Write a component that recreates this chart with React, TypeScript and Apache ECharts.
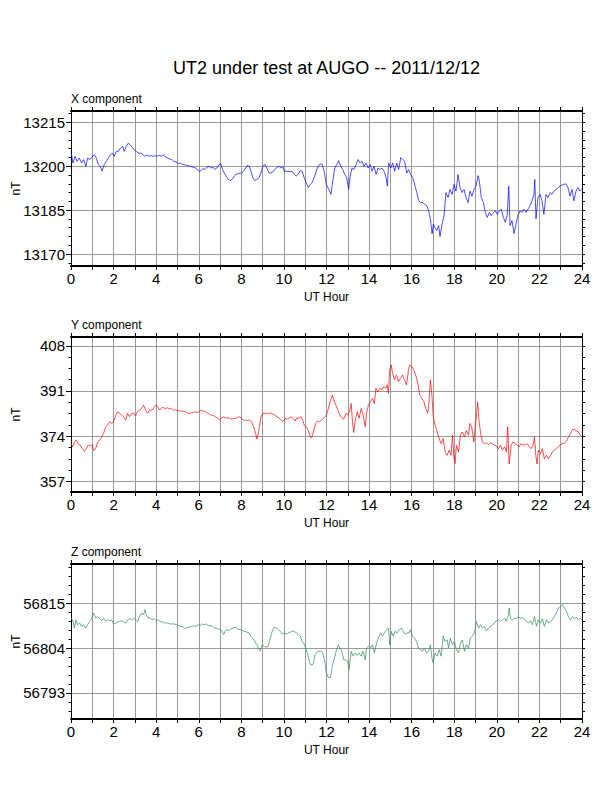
import React, { useEffect, useRef } from "react";
import * as echarts from "echarts";

const TITLE = "UT2 under test at AUGO -- 2011/12/12";
const HOUR_NAME = "UT Hour";
const UNIT_NAME = "nT";

// [UT hour, nT]
const X_COMPONENT: [number, number][] = [
  [0, 13205.1], [0.09, 13201.1], [0.19, 13203.4], [0.28, 13201.7], [0.39, 13202.8], [0.5, 13201.1], [0.59, 13202.3],
  [0.7, 13200.0], [0.78, 13202.8], [0.89, 13202.3], [1.0, 13203.4], [1.1, 13203.9], [1.19, 13202.8], [1.28, 13200.6],
  [1.38, 13200.0], [1.46, 13198.3], [1.56, 13200.6], [1.66, 13201.7], [1.75, 13202.8], [1.85, 13203.9], [1.94, 13204.5],
  [2.03, 13203.4], [2.13, 13205.1], [2.22, 13205.1], [2.32, 13206.2], [2.43, 13206.8], [2.5, 13205.1], [2.6, 13206.8],
  [2.69, 13207.9], [2.79, 13207.3], [2.9, 13206.2], [2.97, 13205.6], [3.07, 13205.1], [3.16, 13204.5], [3.29, 13204.5],
  [3.38, 13203.9], [3.47, 13203.4], [3.57, 13203.9], [3.66, 13203.4], [3.76, 13203.7], [3.85, 13203.4], [3.94, 13203.6],
  [4.04, 13203.4], [4.13, 13203.9], [4.23, 13203.4], [4.32, 13203.9], [4.41, 13203.4], [4.54, 13202.8], [4.63, 13202.5],
  [4.73, 13202.3], [4.82, 13201.7], [4.93, 13201.5], [5.04, 13200.9], [5.13, 13201.1], [5.23, 13200.6], [5.32, 13200.6],
  [5.41, 13200.3], [5.51, 13200.2], [5.6, 13200.0], [5.7, 13199.7], [5.79, 13199.7], [5.88, 13199.2], [6.01, 13198.3],
  [6.1, 13198.5], [6.2, 13199.2], [6.29, 13198.9], [6.38, 13199.7], [6.48, 13200.0], [6.57, 13199.4], [6.67, 13199.7],
  [6.76, 13198.9], [6.85, 13199.4], [6.95, 13200.6], [7.03, 13200.8], [7.12, 13198.9], [7.2, 13197.7], [7.29, 13196.6],
  [7.39, 13195.5], [7.48, 13195.1], [7.57, 13195.5], [7.67, 13196.6], [7.76, 13197.4], [7.86, 13197.4], [7.95, 13197.7],
  [8.01, 13197.7], [8.11, 13198.3], [8.2, 13199.4], [8.29, 13200.3], [8.37, 13200.0], [8.45, 13198.3], [8.54, 13196.1],
  [8.64, 13195.1], [8.73, 13195.5], [8.83, 13196.1], [8.92, 13197.7], [9.01, 13200.0], [9.11, 13200.6], [9.2, 13199.4],
  [9.3, 13197.7], [9.39, 13197.7], [9.48, 13198.1], [9.58, 13198.9], [9.67, 13199.7], [9.77, 13200.0], [9.86, 13199.4],
  [9.95, 13200.0], [10.02, 13198.3], [10.11, 13198.3], [10.2, 13198.3], [10.3, 13198.1], [10.39, 13198.3], [10.49, 13197.2],
  [10.58, 13196.6], [10.67, 13197.4], [10.77, 13198.5], [10.86, 13198.3], [10.95, 13196.1], [11.05, 13194.4], [11.14, 13192.7],
  [11.24, 13193.8], [11.33, 13194.4], [11.42, 13196.1], [11.52, 13198.3], [11.61, 13200.0], [11.71, 13200.8], [11.8, 13200.6],
  [11.89, 13198.3], [11.99, 13193.8], [12.11, 13192.1], [12.21, 13190.4], [12.29, 13194.9], [12.39, 13199.4], [12.48, 13200.6],
  [12.57, 13201.9], [12.67, 13200.0], [12.76, 13198.9], [12.86, 13197.2], [12.95, 13196.1], [13.04, 13192.1], [13.11, 13196.6],
  [13.2, 13199.4], [13.29, 13198.9], [13.39, 13200.6], [13.48, 13202.3], [13.58, 13201.1], [13.67, 13201.7], [13.76, 13200.0],
  [13.86, 13201.1], [13.95, 13199.4], [14.05, 13200.6], [14.14, 13198.3], [14.23, 13200.0], [14.33, 13197.2], [14.42, 13199.4],
  [14.52, 13198.9], [14.61, 13199.4], [14.7, 13198.3], [14.8, 13196.1], [14.86, 13193.2], [14.92, 13201.1], [15.02, 13199.4],
  [15.11, 13201.1], [15.2, 13198.3], [15.3, 13201.1], [15.39, 13198.9], [15.49, 13203.0], [15.58, 13202.3], [15.67, 13201.7],
  [15.77, 13197.7], [15.86, 13198.9], [15.95, 13197.2], [16.05, 13196.1], [16.14, 13193.8], [16.24, 13191.0], [16.33, 13188.2],
  [16.42, 13187.6], [16.52, 13187.6], [16.61, 13187.0], [16.71, 13186.5], [16.8, 13184.8], [16.89, 13181.4], [16.96, 13176.9],
  [17.02, 13180.3], [17.08, 13179.1], [17.18, 13178.0], [17.27, 13179.7], [17.33, 13176.0], [17.43, 13180.3], [17.52, 13183.1],
  [17.61, 13191.0], [17.71, 13189.3], [17.8, 13192.1], [17.9, 13190.4], [17.99, 13193.8], [18.08, 13191.5], [18.18, 13197.2],
  [18.27, 13192.7], [18.36, 13191.0], [18.46, 13192.1], [18.55, 13189.3], [18.65, 13187.6], [18.74, 13191.5], [18.83, 13189.8],
  [18.93, 13192.1], [19.02, 13193.2], [19.12, 13196.8], [19.18, 13194.9], [19.27, 13189.3], [19.37, 13187.6], [19.46, 13184.2],
  [19.55, 13182.5], [19.65, 13184.2], [19.74, 13183.1], [19.84, 13184.2], [19.93, 13184.8], [20.02, 13183.6], [20.12, 13184.8],
  [20.21, 13185.3], [20.31, 13182.5], [20.4, 13180.8], [20.49, 13183.6], [20.56, 13193.2], [20.62, 13179.7], [20.71, 13181.4],
  [20.81, 13177.0], [20.9, 13180.3], [20.99, 13183.1], [21.09, 13184.8], [21.18, 13184.2], [21.28, 13185.3], [21.37, 13184.2],
  [21.46, 13185.3], [21.56, 13186.5], [21.65, 13188.2], [21.75, 13190.4], [21.78, 13195.5], [21.84, 13182.0], [21.93, 13189.3],
  [22.03, 13190.4], [22.12, 13188.2], [22.21, 13183.6], [22.31, 13190.4], [22.4, 13189.3], [22.5, 13191.0], [22.59, 13190.4],
  [22.68, 13191.5], [22.78, 13192.1], [22.87, 13192.7], [22.97, 13193.2], [23.06, 13193.6], [23.15, 13193.8], [23.25, 13194.0],
  [23.34, 13192.7], [23.44, 13189.8], [23.53, 13192.1], [23.62, 13188.2], [23.72, 13191.5], [23.81, 13192.7], [23.9, 13191.5],
  [23.97, 13192.1],
];

const Y_COMPONENT: [number, number][] = [
  [0, 371.2], [0.08, 370.0], [0.16, 371.8], [0.25, 372.5], [0.34, 371.2], [0.44, 370.6], [0.53, 369.3], [0.63, 368.3],
  [0.72, 369.3], [0.81, 370.6], [0.91, 370.3], [1.0, 370.8], [1.06, 368.7], [1.16, 369.3], [1.25, 371.8], [1.35, 372.5],
  [1.44, 373.7], [1.53, 375.0], [1.63, 377.5], [1.72, 378.1], [1.82, 379.4], [1.91, 378.8], [2.0, 379.4], [2.1, 381.9],
  [2.19, 383.2], [2.28, 382.6], [2.38, 381.9], [2.47, 381.3], [2.57, 380.0], [2.66, 382.6], [2.75, 381.3], [2.85, 382.6],
  [2.94, 382.6], [3.04, 381.7], [3.13, 383.4], [3.22, 383.8], [3.32, 384.4], [3.41, 385.7], [3.51, 383.8], [3.6, 382.6],
  [3.69, 383.8], [3.79, 383.8], [3.88, 384.4], [3.97, 385.7], [4.07, 385.1], [4.16, 383.8], [4.26, 384.7], [4.35, 384.7],
  [4.44, 384.4], [4.54, 384.7], [4.63, 384.2], [4.73, 384.4], [4.82, 383.8], [4.91, 383.8], [5.01, 383.8], [5.1, 383.4],
  [5.2, 383.4], [5.29, 383.4], [5.38, 383.2], [5.48, 382.6], [5.57, 382.6], [5.67, 382.8], [5.76, 382.9], [5.85, 383.2],
  [5.95, 382.9], [6.04, 383.4], [6.13, 383.8], [6.23, 383.4], [6.32, 383.2], [6.42, 382.6], [6.51, 382.2], [6.6, 381.9],
  [6.7, 381.7], [6.79, 381.3], [6.89, 380.7], [6.98, 380.0], [7.07, 380.9], [7.17, 381.2], [7.26, 380.9], [7.36, 380.7],
  [7.45, 380.9], [7.54, 380.4], [7.64, 380.7], [7.73, 380.7], [7.82, 381.0], [7.92, 381.3], [8.01, 380.7], [8.11, 380.0],
  [8.2, 380.0], [8.29, 379.9], [8.39, 380.0], [8.48, 379.4], [8.58, 377.5], [8.67, 375.0], [8.73, 372.9], [8.8, 375.0],
  [8.86, 378.1], [8.92, 381.3], [9.01, 382.6], [9.11, 382.6], [9.2, 382.6], [9.3, 382.3], [9.39, 382.9], [9.48, 382.2],
  [9.58, 381.9], [9.67, 381.3], [9.77, 380.9], [9.86, 380.0], [9.95, 379.4], [10.05, 380.7], [10.14, 380.4], [10.23, 380.7],
  [10.33, 381.3], [10.42, 380.7], [10.52, 379.7], [10.61, 380.9], [10.7, 380.7], [10.8, 381.3], [10.89, 380.0], [10.95, 378.1],
  [11.05, 377.5], [11.14, 376.2], [11.24, 373.7], [11.3, 373.4], [11.39, 375.6], [11.49, 378.8], [11.58, 379.7], [11.67, 379.4],
  [11.77, 380.0], [11.86, 380.7], [11.99, 381.9], [12.09, 384.4], [12.19, 387.6], [12.28, 389.5], [12.34, 387.6], [12.44, 385.7],
  [12.53, 383.8], [12.63, 381.9], [12.72, 380.9], [12.81, 380.4], [12.91, 382.6], [13.0, 381.9], [13.1, 383.8], [13.16, 386.3],
  [13.22, 379.4], [13.28, 375.4], [13.35, 380.0], [13.44, 383.2], [13.53, 380.7], [13.63, 384.4], [13.72, 381.9], [13.82, 377.5],
  [13.88, 382.6], [13.97, 385.7], [14.07, 387.0], [14.16, 388.2], [14.25, 386.3], [14.32, 392.0], [14.41, 390.7], [14.5, 392.0],
  [14.6, 391.4], [14.69, 392.6], [14.79, 392.0], [14.85, 393.3], [14.91, 390.1], [14.97, 398.9], [15.04, 400.8], [15.1, 397.7],
  [15.19, 395.2], [15.29, 397.0], [15.38, 394.5], [15.47, 395.8], [15.57, 397.0], [15.66, 395.2], [15.76, 393.3], [15.85, 398.9],
  [15.91, 400.8], [16.01, 400.2], [16.1, 398.9], [16.19, 397.0], [16.29, 393.9], [16.38, 389.5], [16.48, 388.2], [16.57, 387.0],
  [16.66, 384.4], [16.76, 382.6], [16.82, 387.6], [16.88, 395.2], [16.95, 389.5], [17.01, 381.9], [17.1, 378.1], [17.2, 375.6],
  [17.29, 373.1], [17.38, 371.2], [17.48, 373.1], [17.57, 368.1], [17.67, 366.8], [17.76, 368.7], [17.85, 366.8], [17.92, 374.4],
  [17.98, 366.2], [18.04, 363.7], [18.1, 370.6], [18.2, 368.1], [18.29, 374.4], [18.38, 375.6], [18.48, 373.7], [18.57, 376.2],
  [18.67, 374.4], [18.73, 378.8], [18.82, 377.5], [18.92, 371.8], [19.01, 379.4], [19.1, 386.8], [19.17, 379.4], [19.23, 375.6],
  [19.32, 371.8], [19.42, 371.2], [19.51, 371.5], [19.61, 370.8], [19.7, 371.5], [19.79, 371.2], [19.89, 370.6], [19.98, 370.3],
  [20.08, 369.3], [20.17, 370.6], [20.26, 368.7], [20.36, 370.0], [20.45, 368.1], [20.51, 377.5], [20.58, 363.5], [20.67, 370.6],
  [20.76, 371.8], [20.86, 371.2], [20.95, 370.6], [21.05, 370.0], [21.14, 371.2], [21.23, 370.8], [21.33, 370.6], [21.42, 371.2],
  [21.51, 370.3], [21.61, 369.3], [21.7, 370.6], [21.77, 373.7], [21.83, 366.8], [21.89, 363.5], [21.95, 368.7], [22.05, 367.4],
  [22.14, 369.3], [22.23, 365.5], [22.33, 366.8], [22.42, 365.5], [22.52, 366.8], [22.61, 368.1], [22.7, 368.7], [22.8, 369.3],
  [22.89, 370.0], [22.99, 370.8], [23.08, 371.2], [23.17, 371.2], [23.27, 372.1], [23.36, 373.7], [23.46, 375.0], [23.55, 376.6],
  [23.64, 376.6], [23.74, 375.9], [23.83, 375.6], [23.92, 374.4], [23.99, 373.7],
];

const Z_COMPONENT: [number, number][] = [
  [0, 56811.3], [0.08, 56810.9], [0.16, 56808.9], [0.23, 56810.9], [0.31, 56809.7], [0.41, 56810.1], [0.5, 56809.3],
  [0.59, 56809.7], [0.69, 56808.9], [0.78, 56809.7], [0.88, 56810.5], [0.97, 56811.3], [1.06, 56812.6], [1.16, 56811.3],
  [1.25, 56811.7], [1.35, 56811.2], [1.44, 56810.7], [1.53, 56811.3], [1.63, 56810.5], [1.72, 56810.9], [1.82, 56810.7],
  [1.91, 56810.9], [2.0, 56809.9], [2.1, 56810.1], [2.19, 56810.4], [2.28, 56810.5], [2.38, 56810.7], [2.47, 56810.4],
  [2.57, 56810.1], [2.66, 56810.9], [2.75, 56811.2], [2.85, 56810.9], [2.94, 56811.3], [3.04, 56810.9], [3.13, 56810.5],
  [3.22, 56811.7], [3.32, 56812.6], [3.41, 56812.1], [3.47, 56813.4], [3.54, 56812.1], [3.63, 56811.3], [3.72, 56811.5],
  [3.82, 56810.9], [3.91, 56811.2], [4.01, 56810.7], [4.1, 56810.9], [4.19, 56810.5], [4.29, 56810.4], [4.38, 56810.1],
  [4.48, 56810.2], [4.57, 56810.1], [4.66, 56809.9], [4.76, 56809.9], [4.85, 56809.9], [4.95, 56809.7], [5.04, 56809.5],
  [5.13, 56809.3], [5.23, 56809.3], [5.32, 56808.9], [5.41, 56808.9], [5.51, 56809.1], [5.6, 56809.2], [5.7, 56809.3],
  [5.79, 56809.5], [5.88, 56809.3], [5.98, 56809.7], [6.07, 56809.5], [6.17, 56809.9], [6.26, 56809.7], [6.35, 56809.9],
  [6.45, 56809.5], [6.54, 56809.5], [6.64, 56809.3], [6.73, 56808.9], [6.82, 56808.9], [6.92, 56808.6], [7.01, 56808.5],
  [7.1, 56808.1], [7.17, 56807.3], [7.23, 56808.1], [7.32, 56808.5], [7.42, 56808.2], [7.51, 56808.7], [7.61, 56808.9],
  [7.7, 56809.1], [7.79, 56808.9], [7.89, 56808.5], [7.98, 56808.5], [8.08, 56808.2], [8.17, 56808.1], [8.26, 56807.9],
  [8.36, 56807.7], [8.45, 56806.9], [8.54, 56806.4], [8.64, 56805.6], [8.73, 56804.8], [8.83, 56803.8], [8.89, 56803.3],
  [8.98, 56804.8], [9.08, 56804.4], [9.17, 56804.2], [9.26, 56804.4], [9.36, 56806.4], [9.45, 56808.1], [9.55, 56809.1],
  [9.64, 56808.9], [9.73, 56808.5], [9.83, 56808.1], [9.92, 56807.4], [10.02, 56807.7], [10.11, 56807.4], [10.2, 56807.7],
  [10.3, 56807.9], [10.39, 56808.2], [10.49, 56808.1], [10.58, 56807.7], [10.67, 56807.4], [10.77, 56806.9], [10.86, 56805.6],
  [10.95, 56805.0], [11.05, 56803.6], [11.14, 56802.0], [11.24, 56799.9], [11.33, 56799.8], [11.39, 56800.3], [11.46, 56802.4],
  [11.55, 56803.0], [11.64, 56803.2], [11.74, 56803.2], [11.83, 56802.8], [11.92, 56800.7], [11.99, 56797.9], [12.09, 56796.7],
  [12.19, 56796.8], [12.28, 56799.9], [12.38, 56801.6], [12.47, 56803.6], [12.56, 56804.8], [12.63, 56804.0], [12.72, 56803.2],
  [12.81, 56801.1], [12.91, 56801.1], [13.0, 56800.7], [13.06, 56798.7], [13.16, 56803.2], [13.25, 56802.0], [13.35, 56802.8],
  [13.44, 56802.2], [13.53, 56802.8], [13.63, 56802.0], [13.72, 56803.2], [13.82, 56801.1], [13.88, 56804.0], [13.97, 56804.4],
  [14.07, 56804.0], [14.16, 56804.8], [14.25, 56802.8], [14.35, 56805.2], [14.44, 56806.4], [14.54, 56807.7], [14.63, 56806.9],
  [14.72, 56807.7], [14.82, 56808.5], [14.91, 56808.9], [14.97, 56804.8], [15.04, 56808.1], [15.13, 56806.9], [15.22, 56808.1],
  [15.32, 56807.7], [15.41, 56808.5], [15.51, 56808.9], [15.6, 56808.1], [15.69, 56807.4], [15.79, 56807.7], [15.88, 56807.7],
  [15.94, 56808.5], [16.04, 56806.9], [16.13, 56806.4], [16.23, 56805.6], [16.32, 56804.0], [16.41, 56803.6], [16.51, 56803.2],
  [16.6, 56804.0], [16.69, 56802.8], [16.79, 56803.2], [16.88, 56804.8], [16.95, 56801.6], [17.01, 56800.3], [17.1, 56802.8],
  [17.2, 56802.0], [17.29, 56803.6], [17.38, 56802.0], [17.48, 56806.9], [17.57, 56805.6], [17.67, 56806.0], [17.73, 56804.0],
  [17.82, 56806.4], [17.92, 56804.8], [18.01, 56805.6], [18.1, 56803.6], [18.2, 56802.8], [18.29, 56805.2], [18.38, 56806.0],
  [18.48, 56803.2], [18.57, 56804.8], [18.67, 56804.0], [18.76, 56806.4], [18.85, 56806.9], [18.95, 56807.7], [19.04, 56810.5],
  [19.14, 56808.9], [19.23, 56809.7], [19.32, 56808.9], [19.42, 56809.3], [19.51, 56808.2], [19.61, 56808.9], [19.7, 56809.3],
  [19.79, 56809.7], [19.89, 56810.1], [19.98, 56810.7], [20.08, 56810.9], [20.17, 56810.5], [20.26, 56810.9], [20.36, 56811.3],
  [20.45, 56810.5], [20.54, 56812.1], [20.58, 56813.8], [20.64, 56811.2], [20.73, 56810.9], [20.83, 56811.3], [20.92, 56811.2],
  [21.01, 56811.7], [21.11, 56811.3], [21.2, 56811.5], [21.3, 56811.2], [21.39, 56810.5], [21.48, 56810.1], [21.58, 56810.7],
  [21.67, 56809.7], [21.77, 56811.7], [21.86, 56809.3], [21.95, 56810.9], [22.05, 56810.1], [22.14, 56811.2], [22.23, 56809.3],
  [22.33, 56810.9], [22.42, 56810.1], [22.52, 56810.5], [22.61, 56810.9], [22.7, 56811.7], [22.8, 56812.6], [22.89, 56813.8],
  [22.99, 56814.2], [23.08, 56814.6], [23.17, 56813.9], [23.27, 56813.0], [23.36, 56811.7], [23.46, 56810.9], [23.55, 56811.7],
  [23.64, 56811.2], [23.74, 56811.5], [23.83, 56810.9], [23.92, 56811.3], [23.99, 56810.9],
];

// axis ranges and ticks
const X_RANGE = [13165.9, 13218.9];
const X_MAJOR = [13170, 13185, 13200, 13215];
const X_MINOR = [13167, 13170, 13173, 13176, 13179, 13182, 13185, 13188, 13191, 13194, 13197, 13200, 13203, 13206, 13209, 13212, 13215, 13218];

const Y_RANGE = [353.0, 411.3];
const Y_MAJOR = [357, 374, 391, 408];
const Y_MINOR = [357, 361.25, 365.5, 369.75, 374, 378.25, 382.5, 386.75, 391, 395.25, 399.5, 403.75, 408];

const Z_RANGE = [56786.6, 56824.6];
const Z_MAJOR = [56793, 56804, 56815];
const Z_MINOR = [56788.6, 56790.8, 56793, 56795.2, 56797.4, 56799.6, 56801.8, 56804, 56806.2, 56808.4, 56810.6, 56812.8, 56815, 56817.2, 56819.4, 56821.6, 56823.8];

const HOUR_RANGE = [0, 24];

const PANELS = [
  { label: "X component", data: X_COMPONENT, range: X_RANGE, major: X_MAJOR, minor: X_MINOR, color: "#0000ff" },
  { label: "Y component", data: Y_COMPONENT, range: Y_RANGE, major: Y_MAJOR, minor: Y_MINOR, color: "#ff0000" },
  { label: "Z component", data: Z_COMPONENT, range: Z_RANGE, major: Z_MAJOR, minor: Z_MINOR, color: "#2e8b57" },
];

const GRID_TOPS = [111, 337, 564];
const GRID_HEIGHT = 155;
const GRID_LEFT = 71;
const GRID_WIDTH = 511;

const FONT = "Liberation Sans, Arial, Helvetica, sans-serif";
const GRID_COLOR = "#999999";

function buildOption() {
  const grid = PANELS.map((_, i) => ({
    left: GRID_LEFT,
    top: GRID_TOPS[i],
    width: GRID_WIDTH,
    height: GRID_HEIGHT,
    containLabel: false,
    outerBoundsMode: "none",
  }));

  const xAxis: object[] = [];
  const yAxis: object[] = [];
  const series: object[] = [];
  const graphic: object[] = [
    {
      type: "text",
      x: GRID_LEFT + GRID_WIDTH / 2,
      y: 68,
      style: { text: TITLE, font: `18px ${FONT}`, fill: "#000", textAlign: "center", textVerticalAlign: "middle" },
    },
  ];

  PANELS.forEach((p, i) => {
    xAxis.push(
      {
        gridIndex: i,
        type: "value",
        position: "bottom",
        min: HOUR_RANGE[0],
        max: HOUR_RANGE[1],
        interval: 1,
        axisLine: { onZero: false, lineStyle: { color: "#000", width: 2 } },
        axisTick: { length: 4, lineStyle: { color: "#000" } },
        axisLabel: {
          color: "#000",
          fontSize: 15,
          fontFamily: FONT,
          margin: 5,
          formatter: (v: number) => (v % 2 === 0 ? String(v) : ""),
        },
        splitLine: { show: true, lineStyle: { color: GRID_COLOR, width: 1 } },
        name: HOUR_NAME,
        nameLocation: "middle",
        nameGap: 25,
        nameMoveOverlap: false,
        nameTextStyle: { color: "#000", fontSize: 12, fontFamily: FONT },
      },
      {
        gridIndex: i,
        type: "value",
        position: "top",
        min: HOUR_RANGE[0],
        max: HOUR_RANGE[1],
        interval: 1,
        axisLine: { onZero: false, lineStyle: { color: "#000", width: 2 } },
        axisTick: { length: 4, lineStyle: { color: "#000" } },
        axisLabel: { show: false },
        splitLine: { show: false },
      }
    );

    yAxis.push(
      {
        gridIndex: i,
        type: "value",
        position: "left",
        min: p.range[0],
        max: p.range[1],
        axisLine: { show: true, onZero: false, lineStyle: { color: "#000", width: 1 } },
        axisTick: { show: true, customValues: p.major, length: 5, lineStyle: { color: "#000" } },
        axisLabel: {
          customValues: p.major,
          color: "#000",
          fontSize: 15,
          fontFamily: FONT,
          margin: 6,
          formatter: (v: number) => String(v),
        },
        splitLine: { show: true, lineStyle: { color: GRID_COLOR, width: 1 } },
        name: UNIT_NAME,
        nameLocation: "middle",
        nameGap: 49,
        nameRotate: 90,
        nameMoveOverlap: false,
        nameTextStyle: { color: "#000", fontSize: 12, fontFamily: FONT },
      },
      {
        gridIndex: i,
        type: "value",
        position: "left",
        min: p.range[0],
        max: p.range[1],
        axisLine: { show: false },
        axisTick: { show: true, customValues: p.minor, length: 2.5, lineStyle: { color: "#000" } },
        axisLabel: { show: false },
        splitLine: { show: false },
      },
      {
        gridIndex: i,
        type: "value",
        position: "right",
        min: p.range[0],
        max: p.range[1],
        axisLine: { show: true, onZero: false, lineStyle: { color: "#000", width: 1 } },
        axisTick: { show: true, customValues: p.minor, length: 3, lineStyle: { color: "#000" } },
        axisLabel: { show: false },
        splitLine: { show: false },
      }
    );

    series.push({
      type: "line",
      name: p.label,
      xAxisIndex: i * 2,
      yAxisIndex: i * 3,
      data: p.data,
      symbol: "none",
      showSymbol: false,
      lineStyle: { color: p.color, width: 0.7 },
      z: 3,
    });

    graphic.push({
      type: "text",
      x: GRID_LEFT,
      y: GRID_TOPS[i] - 12.5,
      style: { text: p.label, font: `12px ${FONT}`, fill: "#000", textAlign: "left", textVerticalAlign: "middle" },
    });
  });

  return {
    animation: false,
    backgroundColor: "#ffffff",
    grid,
    xAxis,
    yAxis,
    series,
    graphic,
  };
}

export default function App() {
  const chartRef = useRef<HTMLDivElement>(null);

  useEffect(() => {
    if (!chartRef.current) return;
    const chart = echarts.init(chartRef.current, undefined, { renderer: "svg" });
    // eslint-disable-next-line @typescript-eslint/no-explicit-any
    chart.setOption(buildOption() as any);
    return () => chart.dispose();
  }, []);

  return (
    <div
      ref={chartRef}
      style={{ position: "fixed", left: 0, top: 0, width: 612, height: 792, background: "#fff" }}
    />
  );
}
